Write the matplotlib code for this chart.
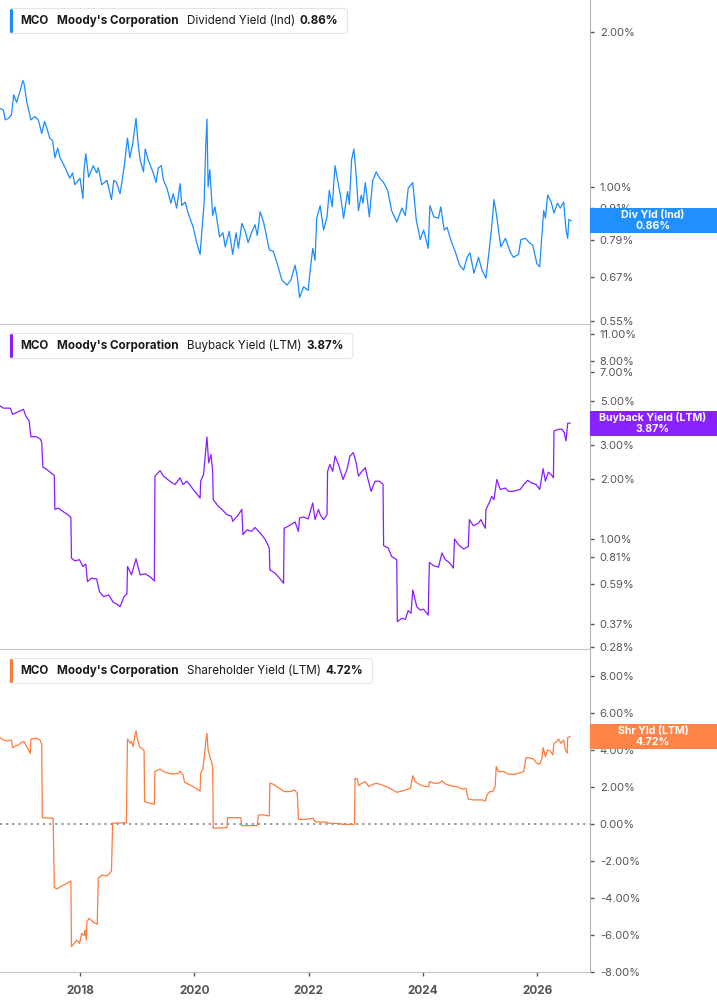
import matplotlib
matplotlib.use("Agg")
import matplotlib.pyplot as plt
from matplotlib.patches import FancyBboxPatch, Rectangle
from matplotlib.ticker import NullLocator
from matplotlib.transforms import IdentityTransform

plt.rcParams['font.family'] = ['Inter', 'DejaVu Sans']

# ---- data (decimal year, percent) ----
div_years = [2016.60, 2016.66, 2016.69, 2016.75, 2016.80, 2016.84, 2016.89, 2016.94, 2017.00, 2017.02,
             2017.07, 2017.14, 2017.21, 2017.27, 2017.33, 2017.38, 2017.42, 2017.47, 2017.52, 2017.56,
             2017.61, 2017.65, 2017.74, 2017.82, 2017.87, 2017.91, 2018.00, 2018.05, 2018.07, 2018.10,
             2018.15, 2018.23, 2018.29, 2018.32, 2018.38, 2018.47, 2018.55, 2018.59, 2018.64, 2018.70,
             2018.77, 2018.83, 2018.87, 2018.92, 2018.98, 2019.01, 2019.05, 2019.11, 2019.14, 2019.19,
             2019.28, 2019.33, 2019.37, 2019.42, 2019.46, 2019.52, 2019.59, 2019.63, 2019.69, 2019.75,
             2019.78, 2019.84, 2019.89, 2019.98, 2020.04, 2020.10, 2020.13, 2020.17, 2020.20, 2020.22,
             2020.24, 2020.27, 2020.32, 2020.36, 2020.44, 2020.50, 2020.54, 2020.61, 2020.67, 2020.73,
             2020.77, 2020.83, 2020.89, 2020.94, 2021.00, 2021.06, 2021.10, 2021.15, 2021.21, 2021.25,
             2021.31, 2021.38, 2021.45, 2021.53, 2021.62, 2021.69, 2021.76, 2021.80, 2021.84, 2021.91,
             2021.99, 2022.02, 2022.07, 2022.11, 2022.14, 2022.20, 2022.26, 2022.32, 2022.36, 2022.41,
             2022.46, 2022.52, 2022.56, 2022.61, 2022.68, 2022.71, 2022.75, 2022.79, 2022.83, 2022.87,
             2022.92, 2022.95, 2022.99, 2023.06, 2023.12, 2023.18, 2023.24, 2023.31, 2023.38, 2023.45,
             2023.54, 2023.63, 2023.69, 2023.74, 2023.82, 2023.88, 2023.95, 2024.01, 2024.09, 2024.12,
             2024.19, 2024.27, 2024.31, 2024.37, 2024.42, 2024.50, 2024.56, 2024.64, 2024.71, 2024.77,
             2024.82, 2024.89, 2024.97, 2025.03, 2025.10, 2025.16, 2025.20, 2025.24, 2025.28, 2025.32,
             2025.36, 2025.44, 2025.52, 2025.58, 2025.67, 2025.71, 2025.79, 2025.86, 2025.92, 2025.99,
             2026.04, 2026.06, 2026.11, 2026.14, 2026.18, 2026.24, 2026.29, 2026.35, 2026.40, 2026.46,
             2026.50, 2026.53, 2026.55, 2026.59]
div_yield = [1.42, 1.41, 1.35, 1.36, 1.38, 1.51, 1.46, 1.52, 1.61, 1.59,
             1.46, 1.35, 1.37, 1.35, 1.27, 1.34, 1.30, 1.245, 1.23, 1.14,
             1.19, 1.14, 1.09, 1.04, 1.065, 1.01, 1.04, 0.95, 1.08, 1.16,
             1.045, 1.10, 1.065, 1.09, 1.01, 1.03, 0.945, 1.03, 1.02, 0.97,
             1.09, 1.245, 1.14, 1.21, 1.36, 1.23, 1.13, 1.07, 1.185, 1.13,
             1.065, 1.02, 1.09, 1.10, 1.03, 0.995, 0.93, 0.97, 0.91, 1.015,
             0.92, 0.935, 0.89, 0.835, 0.78, 0.74, 0.82, 0.93, 1.21, 1.355,
             1.00, 1.08, 0.88, 0.915, 0.80, 0.815, 0.765, 0.82, 0.74, 0.815,
             0.76, 0.85, 0.82, 0.78, 0.815, 0.845, 0.805, 0.895, 0.855, 0.815,
             0.755, 0.75, 0.71, 0.66, 0.645, 0.66, 0.705, 0.67, 0.61, 0.64,
             0.63, 0.68, 0.76, 0.72, 0.87, 0.92, 0.825, 0.875, 0.985, 0.915,
             1.10, 1.01, 0.955, 0.87, 0.98, 0.925, 1.13, 1.185, 1.055, 0.90,
             0.965, 0.93, 1.02, 0.875, 1.03, 1.07, 1.04, 1.02, 0.985, 0.90,
             0.855, 0.91, 0.88, 0.995, 1.02, 0.865, 0.79, 0.825, 0.76, 0.92,
             0.875, 0.87, 0.915, 0.825, 0.835, 0.78, 0.75, 0.705, 0.69, 0.73,
             0.745, 0.68, 0.73, 0.69, 0.665, 0.76, 0.835, 0.945, 0.89, 0.825,
             0.765, 0.795, 0.75, 0.73, 0.74, 0.79, 0.795, 0.78, 0.77, 0.71,
             0.70, 0.755, 0.90, 0.87, 0.965, 0.935, 0.89, 0.93, 0.91, 0.935,
             0.825, 0.795, 0.865, 0.86]

bb_years = [2016.60, 2016.66, 2016.78, 2016.82, 2016.89, 2016.95, 2017.01, 2017.05, 2017.11, 2017.14,
            2017.24, 2017.31, 2017.33, 2017.35, 2017.42, 2017.50, 2017.55, 2017.56, 2017.62, 2017.71,
            2017.80, 2017.84, 2017.85, 2017.91, 2017.99, 2018.05, 2018.10, 2018.13, 2018.20, 2018.29,
            2018.34, 2018.41, 2018.50, 2018.58, 2018.65, 2018.70, 2018.77, 2018.82, 2018.83, 2018.90,
            2018.98, 2019.05, 2019.14, 2019.22, 2019.30, 2019.31, 2019.40, 2019.46, 2019.57, 2019.66,
            2019.75, 2019.80, 2019.87, 2019.98, 2020.10, 2020.11, 2020.16, 2020.22, 2020.25, 2020.29,
            2020.32, 2020.33, 2020.42, 2020.48, 2020.57, 2020.65, 2020.67, 2020.77, 2020.83, 2020.85,
            2020.92, 2021.00, 2021.06, 2021.15, 2021.24, 2021.31, 2021.32, 2021.41, 2021.49, 2021.56,
            2021.57, 2021.66, 2021.73, 2021.76, 2021.82, 2021.84, 2021.91, 2021.99, 2022.02, 2022.07,
            2022.11, 2022.17, 2022.20, 2022.26, 2022.32, 2022.33, 2022.37, 2022.42, 2022.46, 2022.52,
            2022.60, 2022.67, 2022.72, 2022.78, 2022.83, 2022.87, 2022.93, 2022.99, 2023.03, 2023.09,
            2023.16, 2023.24, 2023.30, 2023.31, 2023.39, 2023.45, 2023.54, 2023.55, 2023.63, 2023.69,
            2023.74, 2023.79, 2023.82, 2023.89, 2023.95, 2024.01, 2024.09, 2024.11, 2024.19, 2024.27,
            2024.33, 2024.39, 2024.47, 2024.53, 2024.55, 2024.62, 2024.71, 2024.79, 2024.81, 2024.88,
            2024.97, 2025.01, 2025.09, 2025.10, 2025.17, 2025.20, 2025.24, 2025.29, 2025.35, 2025.44,
            2025.49, 2025.58, 2025.70, 2025.76, 2025.83, 2025.90, 2025.98, 2026.04, 2026.10, 2026.14,
            2026.19, 2026.24, 2026.28, 2026.29, 2026.37, 2026.43, 2026.47, 2026.50, 2026.53, 2026.57]
bb_yield = [4.73, 4.61, 4.61, 4.29, 4.38, 4.46, 4.55, 4.21, 3.97, 3.30,
            3.30, 3.20, 3.08, 2.31, 2.25, 2.15, 2.10, 1.41, 1.43, 1.37,
            1.315, 1.28, 0.797, 0.772, 0.782, 0.722, 0.743, 0.605, 0.630, 0.625,
            0.538, 0.508, 0.518, 0.475, 0.464, 0.451, 0.508, 0.524, 0.722, 0.655,
            0.791, 0.655, 0.663, 0.642, 0.61, 2.08, 2.22, 2.08, 1.96, 1.886,
            2.04, 1.886, 1.96, 1.78, 1.61, 1.96, 2.12, 3.29, 2.43, 2.68,
            2.20, 1.58, 1.46, 1.41, 1.325, 1.30, 1.225, 1.325, 1.41, 1.048,
            1.11, 1.09, 1.14, 1.07, 0.99, 0.897, 0.695, 0.668, 0.630, 0.594,
            1.13, 1.165, 1.20, 1.217, 1.09, 1.275, 1.29, 1.26, 1.35, 1.52,
            1.25, 1.41, 1.325, 1.25, 1.325, 2.20, 2.385, 2.20, 2.63, 2.385,
            2.00, 2.25, 2.63, 2.74, 2.43, 2.08, 2.20, 2.295, 2.04, 1.743,
            1.96, 1.96, 1.886, 0.921, 0.897, 0.812, 0.782, 0.379, 0.394, 0.389,
            0.431, 0.418, 0.549, 0.451, 0.434, 0.438, 0.409, 0.757, 0.728, 0.717,
            0.846, 0.782, 0.751, 0.709, 0.997, 0.932, 0.886, 0.913, 1.25, 1.165,
            1.20, 1.25, 1.13, 1.41, 1.55, 1.64, 1.58, 2.00, 1.78, 1.81,
            1.743, 1.743, 1.78, 1.886, 1.98, 1.92, 1.886, 1.78, 2.27, 1.96,
            2.18, 2.12, 2.04, 3.53, 3.60, 3.60, 3.46, 3.14, 3.86, 3.87]

shr_years = [2016.60, 2016.66, 2016.72, 2016.80, 2016.82, 2016.88, 2016.92, 2016.98, 2017.02, 2017.06,
             2017.13, 2017.14, 2017.24, 2017.30, 2017.33, 2017.34, 2017.53, 2017.55, 2017.60, 2017.68,
             2017.77, 2017.84, 2017.85, 2017.90, 2017.94, 2017.99, 2018.03, 2018.07, 2018.09, 2018.11,
             2018.12, 2018.16, 2018.22, 2018.30, 2018.32, 2018.38, 2018.46, 2018.51, 2018.55, 2018.57,
             2018.81, 2018.83, 2018.88, 2018.90, 2018.93, 2018.96, 2018.98, 2019.00, 2019.04, 2019.08,
             2019.12, 2019.13, 2019.22, 2019.30, 2019.31, 2019.40, 2019.46, 2019.55, 2019.63, 2019.72,
             2019.75, 2019.80, 2019.83, 2019.92, 2020.01, 2020.10, 2020.11, 2020.15, 2020.17, 2020.20,
             2020.22, 2020.24, 2020.27, 2020.30, 2020.32, 2020.33, 2020.57, 2020.58, 2020.81, 2020.83,
             2021.10, 2021.12, 2021.21, 2021.31, 2021.32, 2021.38, 2021.47, 2021.57, 2021.68, 2021.75,
             2021.80, 2021.82, 2021.94, 2022.08, 2022.11, 2022.32, 2022.35, 2022.55, 2022.58, 2022.80,
             2022.81, 2022.85, 2022.87, 2022.93, 2022.99, 2023.05, 2023.13, 2023.19, 2023.28, 2023.40,
             2023.54, 2023.63, 2023.75, 2023.78, 2023.82, 2023.86, 2023.95, 2024.04, 2024.10, 2024.11,
             2024.19, 2024.27, 2024.33, 2024.40, 2024.50, 2024.59, 2024.68, 2024.75, 2024.79, 2024.87,
             2025.03, 2025.09, 2025.12, 2025.17, 2025.22, 2025.26, 2025.28, 2025.32, 2025.41, 2025.49,
             2025.61, 2025.70, 2025.76, 2025.80, 2025.86, 2025.93, 2025.99, 2026.04, 2026.08, 2026.10,
             2026.14, 2026.18, 2026.22, 2026.27, 2026.29, 2026.34, 2026.37, 2026.41, 2026.46, 2026.49,
             2026.52, 2026.53, 2026.57]
shr_yield = [4.66, 4.54, 4.49, 4.54, 4.12, 4.23, 4.27, 4.42, 4.45, 4.23,
             3.82, 4.59, 4.63, 4.54, 4.31, 0.34, 0.31, -3.44, -3.51, -3.35,
             -3.21, -3.08, -6.63, -6.45, -6.27, -6.45, -5.91, -6.04, -5.73, -6.27,
             -5.28, -5.10, -5.28, -5.42, -2.94, -2.76, -2.81, -2.70, -2.54, 0.04,
             0.07, 4.59, 4.36, 4.45, 4.18, 4.81, 5.03, 4.63, 4.18, 4.09,
             3.95, 1.21, 1.12, 1.06, 2.83, 2.97, 2.83, 2.74, 2.69, 2.74,
             2.86, 2.65, 2.25, 2.11, 1.96, 1.78, 2.74, 3.01, 3.55, 4.45,
             4.90, 4.00, 3.64, 3.34, 3.10, -0.23, -0.20, 0.34, 0.34, -0.09,
             -0.09, 0.49, 0.49, 0.43, 2.20, 2.15, 1.96, 1.75, 1.75, 1.84,
             1.66, 0.25, 0.25, 0.31, 0.12, 0.09, 0.04, 0.02, -0.02, -0.02,
             2.47, 2.43, 2.07, 2.20, 2.29, 2.02, 2.15, 2.20, 2.11, 1.96,
             1.71, 1.78, 1.89, 1.93, 2.61, 2.29, 2.11, 2.02, 2.02, 2.29,
             2.20, 2.20, 2.32, 2.15, 2.05, 2.02, 1.89, 1.93, 1.35, 1.30,
             1.30, 1.24, 1.57, 1.75, 1.75, 2.02, 3.10, 2.83, 2.83, 2.69,
             2.69, 2.77, 2.83, 3.58, 3.58, 3.51, 3.28, 3.23, 3.55, 4.12,
             3.64, 4.00, 3.95, 3.73, 4.36, 4.45, 4.59, 4.36, 4.54, 4.00,
             3.82, 4.66, 4.72]

year_ticks = [2018, 2020, 2022, 2024, 2026]
div_ticks = [0.55, 0.67, 0.79, 0.91, 1.00, 2.00]
bb_ticks = [0.28, 0.37, 0.59, 0.81, 1.00, 2.00, 3.00, 5.00, 7.00, 8.00, 11.00]
shr_ticks = [-8, -6, -4, -2, 0, 2, 4, 6, 8]

blue = '#1a8cff'
purple = '#8a1cff'
orange = '#ff7a3d'

W, H = 717, 1005
fig = plt.figure(figsize=(W / 100, H / 100), dpi=100)
PX = IdentityTransform()


def add_px_axes(left, top, right, bottom):
    return fig.add_axes([left / W, 1 - bottom / H, (right - left) / W, (bottom - top) / H])


ax1 = add_px_axes(0, 0, 590, 324)
ax2 = add_px_axes(0, 325, 590, 649)
ax3 = add_px_axes(0, 650, 590, 972)

for ax in (ax1, ax2, ax3):
    ax.spines['top'].set_visible(False)
    ax.spines['left'].set_visible(False)
    ax.spines['right'].set_color('#b3b3b3')
    ax.spines['bottom'].set_color('#c4c4c4')
    ax.yaxis.tick_right()
    ax.tick_params(axis='y', direction='out', length=3, width=1, color='#555555',
                   labelsize=8, labelcolor='#555555', pad=4)
    ax.set_xlim(2016.6, 2026.92)
    ax.set_xticks(year_ticks)

ax1.tick_params(axis='x', length=0, labelbottom=False)
ax2.tick_params(axis='x', length=0, labelbottom=False)
ax3.tick_params(axis='x', direction='out', length=3, width=1, color='#555555',
                labelsize=8.5, labelcolor='#555555', pad=6)
ax3.set_xticklabels([str(y) for y in year_ticks], fontweight='bold')

# top: dividend yield
ax1.plot(div_years, div_yield, color=blue, lw=0.9)
ax1.set_yscale('log')
ax1.set_ylim(0.542, 2.307)
ax1.set_yticks(div_ticks)
ax1.set_yticklabels([f'{t:.2f}%' for t in div_ticks])
ax1.yaxis.set_minor_locator(NullLocator())

# middle: buyback yield
ax2.plot(bb_years, bb_yield, color=purple, lw=0.9)
ax2.set_yscale('log')
ax2.set_ylim(0.275, 12.2)
ax2.set_yticks(bb_ticks)
ax2.set_yticklabels([f'{t:.2f}%' for t in bb_ticks])
ax2.yaxis.set_minor_locator(NullLocator())

# bottom: shareholder yield
ax3.axhline(0, color='#8c8c8c', lw=1.3, ls=(0, (1.2, 2.2)))
ax3.plot(shr_years, shr_yield, color=orange, lw=0.9)
ax3.set_ylim(-8, 9.4)
ax3.set_yticks(shr_ticks)
ax3.set_yticklabels([f'{t:.2f}%' for t in shr_ticks])

renderer = fig.canvas.get_renderer()


def legend_box(top_px, color, parts):
    cy = H - (top_px + 12.5)
    x = 20
    for text, weight, gap in parts:
        t = fig.text(x, cy, text, transform=PX, fontsize=8.4, fontweight=weight,
                     color='#1a1a1a', va='center', ha='left', zorder=6)
        x += t.get_window_extent(renderer).width + gap
    box = FancyBboxPatch((10, H - top_px - 25), x + 9 - 10, 25, transform=PX,
                         boxstyle='round,pad=0,rounding_size=3', facecolor='white',
                         edgecolor='#e4e4e4', lw=0.8, zorder=5)
    fig.add_artist(box)
    bar = FancyBboxPatch((10, H - top_px - 24.5), 3, 24, transform=PX,
                         boxstyle='round,pad=0,rounding_size=1.5', facecolor=color,
                         edgecolor='none', zorder=6)
    fig.add_artist(bar)


def value_label(ax, value, color, line1, line2):
    y = ax.transData.transform((2026.0, value))[1]
    fig.add_artist(Rectangle((590, y - 12.5), 127, 25, transform=PX,
                             facecolor=color, edgecolor='none', zorder=5))
    fig.text(653, y + 5.5, line1, transform=PX, color='white', fontsize=7.6,
             fontweight='bold', ha='center', va='center', zorder=6)
    fig.text(653, y - 5.5, line2, transform=PX, color='white', fontsize=7.6,
             fontweight='bold', ha='center', va='center', zorder=6)


legend_box(8.5, blue, [('MCO', 'bold', 9), ("Moody's Corporation", 'bold', 8),
                       ('Dividend Yield (Ind)', 'normal', 5), ('0.86%', 'bold', 0)])
legend_box(333.5, purple, [('MCO', 'bold', 9), ("Moody's Corporation", 'bold', 8),
                           ('Buyback Yield (LTM)', 'normal', 5), ('3.87%', 'bold', 0)])
legend_box(658.5, orange, [('MCO', 'bold', 9), ("Moody's Corporation", 'bold', 8),
                           ('Shareholder Yield (LTM)', 'normal', 5), ('4.72%', 'bold', 0)])

value_label(ax1, div_yield[-1], '#2090ff', 'Div Yld (Ind)', '0.86%')
value_label(ax2, bb_yield[-1], '#8a22ff', 'Buyback Yield (LTM)', '3.87%')
value_label(ax3, shr_yield[-1], '#ff8447', 'Shr Yld (LTM)', '4.72%')

fig.savefig('out.png', dpi=100)
